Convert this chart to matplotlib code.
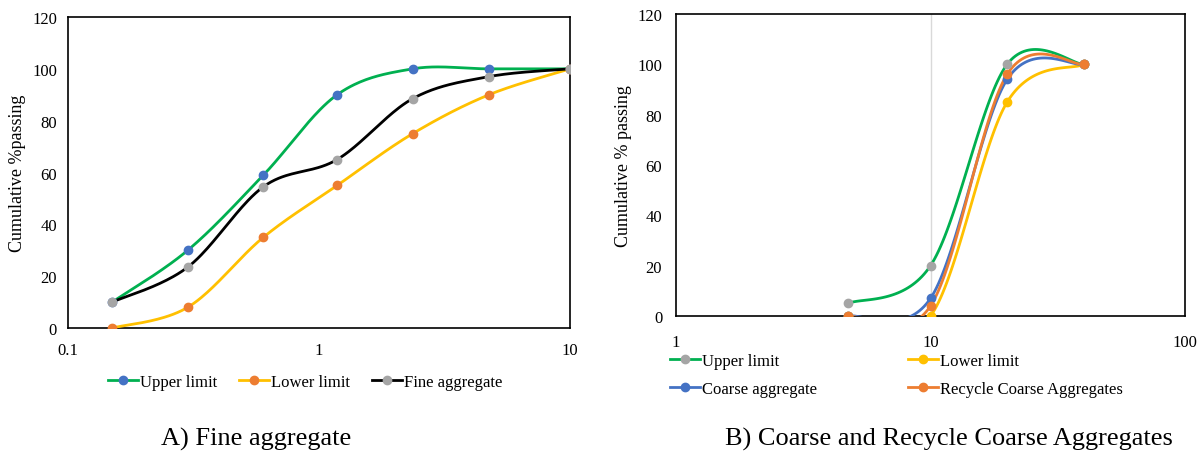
import numpy as np
import matplotlib.pyplot as plt
from matplotlib.lines import Line2D

plt.rcParams['font.family'] = ['Liberation Serif', 'DejaVu Serif']

# A) fine aggregate
sieve_fine = [0.15, 0.3, 0.6, 1.18, 2.36, 4.75, 10]
upper_fine = [10, 30, 59, 90, 100, 100, 100]
lower_fine = [0, 8, 35, 55, 75, 90, 100]
fine_agg = [10, 23.5, 54.5, 65, 88.5, 97, 100]

# B) coarse and recycled coarse aggregates
sieve_coarse = [4.75, 10, 20, 40]
upper_coarse = [5, 20, 100, 100]
lower_coarse = [0, 0, 85, 100]
coarse_agg = [0, 7, 94, 100]
recycle_agg = [0, 4, 96, 100]

GREEN = '#00B050'
YELLOW = '#FFC000'
BLUE = '#4472C4'
ORANGE = '#ED7D31'
GRAY = '#A5A5A5'


def smooth(x, y, n=40):
    # excel-like smoothed line: catmull-rom bezier in log-x space
    lx = np.log10(np.asarray(x, float))
    y = np.asarray(y, float)
    P = np.column_stack([lx, y])
    P = np.vstack([P[0], P, P[-1]])
    out = []
    t = np.linspace(0, 1, n)[:, None]
    for i in range(1, len(P) - 2):
        p0, p1, p2, p3 = P[i - 1], P[i], P[i + 1], P[i + 2]
        c1 = p1 + (p2 - p0) / 6
        c2 = p2 - (p3 - p1) / 6
        seg = ((1 - t) ** 3) * p1 + 3 * t * (1 - t) ** 2 * c1 + 3 * t ** 2 * (1 - t) * c2 + t ** 3 * p2
        out.append(seg)
    out = np.vstack(out)
    return 10 ** out[:, 0], out[:, 1]


def series(ax, x, y, lc, mc, label):
    sx, sy = smooth(x, y)
    ax.plot(sx, sy, color=lc, lw=2.0, zorder=3)
    ax.plot(x, y, 'o', color=mc, ms=6, zorder=4)
    return Line2D([], [], color=lc, lw=2.0, marker='o', mfc=mc, mec=mc, ms=6, label=label)


fig = plt.figure(figsize=(12.04, 4.56), dpi=100)
ax1 = fig.add_axes([0.0565, 0.2785, 0.417, 0.682])
ax2 = fig.add_axes([0.5615, 0.3048, 0.4227, 0.6622])

h1 = [series(ax1, sieve_fine, upper_fine, GREEN, BLUE, 'Upper limit'),
      series(ax1, sieve_fine, lower_fine, YELLOW, ORANGE, 'Lower limit'),
      series(ax1, sieve_fine, fine_agg, 'black', GRAY, 'Fine aggregate')]

up = series(ax2, sieve_coarse, upper_coarse, GREEN, GRAY, 'Upper limit')
lo = series(ax2, sieve_coarse, lower_coarse, YELLOW, YELLOW, 'Lower limit')
ca = series(ax2, sieve_coarse, coarse_agg, BLUE, BLUE, 'Coarse aggregate')
rc = series(ax2, sieve_coarse, recycle_agg, ORANGE, ORANGE, 'Recycle Coarse Aggregates')
h2 = [up, ca, lo, rc]
ax2.axvline(10, color='#D9D9D9', lw=1, zorder=1)

for ax, lim in ((ax1, (0.1, 10)), (ax2, (1, 100))):
    ax.set_xscale('log')
    ax.set_xlim(lim)
    ax.set_ylim(0, 120)
    ax.set_yticks(range(0, 121, 20))
    ax.xaxis.set_major_formatter(plt.FuncFormatter(lambda v, p: f'{v:g}'))
    ax.minorticks_off()
    ax.tick_params(length=0, labelsize=12)
    for s in ax.spines.values():
        s.set_linewidth(1.2)

ax1.tick_params(axis='x', pad=10)
ax1.tick_params(axis='y', pad=8)
ax2.tick_params(axis='x', pad=13)
ax2.tick_params(axis='y', pad=10)

ax1.set_ylabel('Cumulative %passing', fontsize=13, labelpad=4)
ax2.set_ylabel('Cumulative % passing', fontsize=13, labelpad=4)

fig.legend(handles=h1, loc='center left', bbox_to_anchor=(0.0897, 0.16), ncol=3, frameon=False,
           fontsize=12, handlelength=1.8, handletextpad=0.12, columnspacing=1.3,
           borderpad=0, borderaxespad=0)
fig.legend(handles=h2, loc='center left', bbox_to_anchor=(0.5565, 0.1754), ncol=2, frameon=False,
           fontsize=12, handlelength=1.8, handletextpad=0.12, columnspacing=5.45, labelspacing=0.7,
           borderpad=0, borderaxespad=0)

fig.text(0.213, 0.037, 'A) Fine aggregate', ha='center', va='center', fontsize=19)
fig.text(0.788, 0.037, 'B) Coarse and Recycle Coarse Aggregates', ha='center', va='center', fontsize=19)

fig.savefig('out.png', dpi=100)
